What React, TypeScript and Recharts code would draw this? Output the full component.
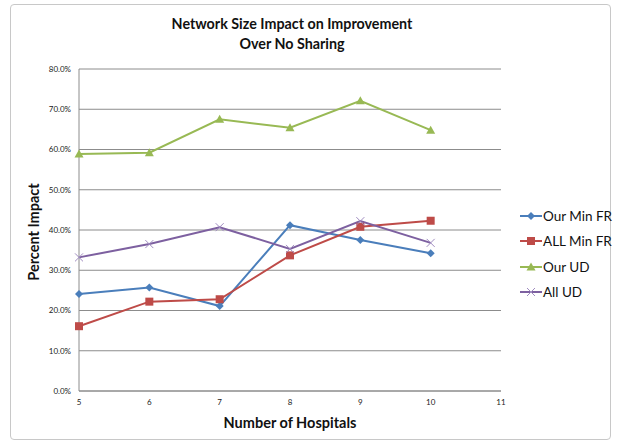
import { LineChart, Line, XAxis, YAxis, CartesianGrid } from 'recharts'

const hospitals = [5, 6, 7, 8, 9, 10]
const ourMinFR = [24.1, 25.7, 21.1, 41.2, 37.5, 34.2]
const allMinFR = [16.1, 22.2, 22.8, 33.7, 40.8, 42.3]
const ourUD = [58.9, 59.2, 67.5, 65.4, 72.1, 64.8]
const allUD = [33.2, 36.5, 40.7, 35.3, 42.2, 36.8]
const xTicks = [5, 6, 7, 8, 9, 10, 11]
const yTicks = [0, 10, 20, 30, 40, 50, 60, 70, 80]

const data = hospitals.map((h, i) => ({
  h,
  ourMinFR: ourMinFR[i],
  allMinFR: allMinFR[i],
  ourUD: ourUD[i],
  allUD: allUD[i],
}))

type Shape = 'diamond' | 'square' | 'triangle' | 'cross'

const series: { key: string; name: string; color: string; shape: Shape }[] = [
  { key: 'ourMinFR', name: 'Our Min FR', color: '#4a7ebb', shape: 'diamond' },
  { key: 'allMinFR', name: 'ALL Min FR', color: '#be4b48', shape: 'square' },
  { key: 'ourUD', name: 'Our UD', color: '#98b954', shape: 'triangle' },
  { key: 'allUD', name: 'All UD', color: '#7d60a0', shape: 'cross' },
]

function Marker({ cx, cy, shape, color }: { cx: number; cy: number; shape: Shape; color: string }) {
  if (cx == null || cy == null) return null
  if (shape === 'diamond')
    return <polygon points={`${cx},${cy - 4} ${cx + 4},${cy} ${cx},${cy + 4} ${cx - 4},${cy}`} fill={color} />
  if (shape === 'square')
    return <rect x={cx - 4} y={cy - 4} width={8} height={8} fill={color} />
  if (shape === 'triangle')
    return <polygon points={`${cx},${cy - 4.5} ${cx + 4.5},${cy + 3.5} ${cx - 4.5},${cy + 3.5}`} fill={color} />
  return (
    <g stroke="#a08cc0" strokeWidth={1}>
      <line x1={cx - 4} y1={cy - 4} x2={cx + 4} y2={cy + 4} />
      <line x1={cx - 4} y1={cy + 4} x2={cx + 4} y2={cy - 4} />
    </g>
  )
}

const font = 'Lato, "Open Sans", sans-serif'

export default function App() {
  return (
    <div style={{ position: 'absolute', left: 0, top: 0, width: 617, height: 443, background: '#fff', fontFamily: font }}>
      <div style={{ position: 'absolute', left: 10, top: 4, width: 601, height: 436, border: '1px solid #c8c8c8', borderRadius: 4, boxSizing: 'border-box' }} />
      <div style={{ position: 'absolute', left: 0, width: 584, top: 14, textAlign: 'center', fontWeight: 700, fontSize: 14.3, lineHeight: '20px', color: '#111' }}>
        Network Size Impact on Improvement
        <br />
        Over No Sharing
      </div>
      <div style={{ position: 'absolute', left: 33, top: 232, transform: 'translate(-50%, -50%) rotate(-90deg)', fontWeight: 700, fontSize: 14.5, whiteSpace: 'nowrap', color: '#111' }}>
        Percent Impact
      </div>
      <div style={{ position: 'absolute', left: 290, top: 422, transform: 'translate(-50%, -50%)', fontWeight: 700, fontSize: 14.5, whiteSpace: 'nowrap', color: '#111' }}>
        Number of Hospitals
      </div>
      <div style={{ position: 'absolute', left: 0, top: 0 }}>
        <LineChart width={617} height={443} data={data} margin={{ top: 69, right: 116, bottom: 22, left: 29 }}>
          <CartesianGrid vertical={false} stroke="#8c8c8c" />
          <XAxis
            dataKey="h"
            type="number"
            domain={[5, 11]}
            ticks={xTicks}
            height={30}
            stroke="#8c8c8c"
            tickLine={false}
            tick={{ fontSize: 8, fill: '#222', fontFamily: font }}
          />
          <YAxis
            domain={[0, 80]}
            ticks={yTicks}
            width={50}
            stroke="#8c8c8c"
            tickLine={false}
            tickFormatter={(v: number) => `${v.toFixed(1)}%`}
            tick={{ fontSize: 8, fill: '#222', fontFamily: font }}
          />
          {series.map((s) => (
            <Line
              key={s.key}
              dataKey={s.key}
              name={s.name}
              stroke={s.color}
              strokeWidth={2}
              isAnimationActive={false}
              dot={(p: any) => <Marker key={`${s.key}-${p.index}`} cx={p.cx} cy={p.cy} shape={s.shape} color={s.color} />}
              activeDot={false}
            />
          ))}
        </LineChart>
      </div>
      <div style={{ position: 'absolute', left: 520, top: 203 }}>
        {series.map((s) => (
          <div key={s.key} style={{ display: 'flex', alignItems: 'center', height: 25.5, fontSize: 13.5, color: '#111', whiteSpace: 'nowrap' }}>
            <svg width={22} height={12}>
              <line x1={0} y1={6} x2={22} y2={6} stroke={s.color} strokeWidth={2} />
              <Marker cx={11} cy={6} shape={s.shape} color={s.color} />
            </svg>
            <span style={{ marginLeft: 1 }}>{s.name}</span>
          </div>
        ))}
      </div>
    </div>
  )
}
